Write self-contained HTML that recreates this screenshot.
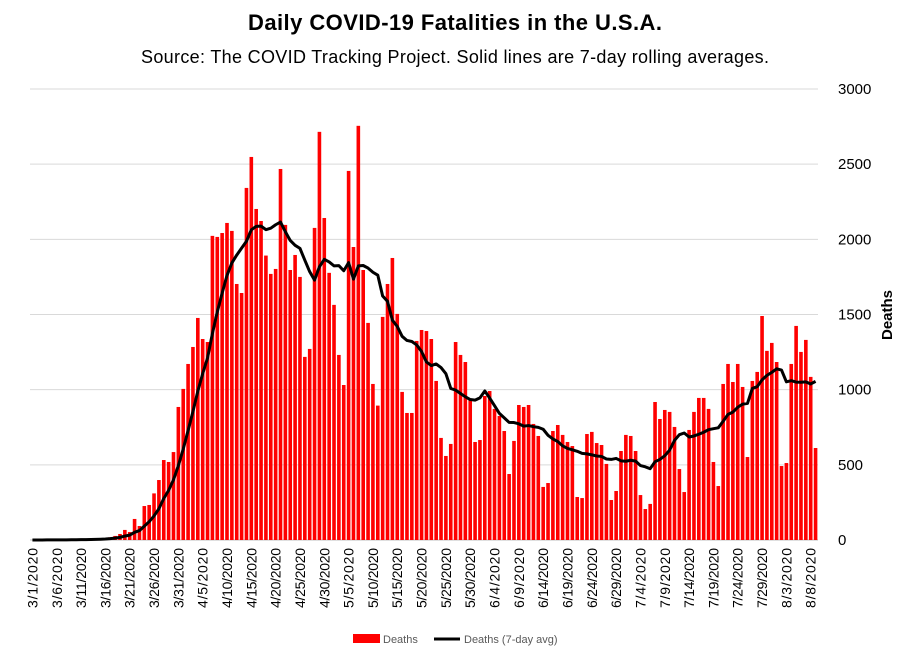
<!DOCTYPE html>
<html><head><meta charset="utf-8"><style>
body{margin:0;background:#fff;}
svg{display:block;font-family:"Liberation Sans",sans-serif;}
</style></head><body>
<svg id="chart" width="910" height="661">
<text x="455" y="30" text-anchor="middle" font-size="22" font-weight="bold" fill="#000" textLength="414">Daily COVID-19 Fatalities in the U.S.A.</text>
<text x="455" y="63" text-anchor="middle" font-size="18" fill="#000" textLength="628">Source: The COVID Tracking Project. Solid lines are 7-day rolling averages.</text>
<g id="grid"></g><g id="bars"></g><g id="line"></g><g id="yticks"></g><g id="xticks"></g>
<text transform="translate(892,315) rotate(-90)" text-anchor="middle" font-size="15" font-weight="bold">Deaths</text>
<g>
<rect x="353" y="634" width="27" height="9" fill="#ff0000"/>
<text x="383" y="643" font-size="11" fill="#595959">Deaths</text>
<line x1="434" y1="639" x2="460" y2="639" stroke="#000" stroke-width="3"/>
<text x="464" y="643" font-size="11" fill="#595959">Deaths (7-day avg)</text>
</g>
</svg>
<script>
const deaths=[0,0,1,1,1,2,1,2,3,2,4,4,7,8,9,13,18,27,40,67,53,140,93,226,233,310,399,532,519,585,
885,1005,1171,1284,1477,1337,1317,2023,2016,2042,2109,2056,1703,1643,2342,2548,2202,2122,1892,1770,
1803,2468,2096,1796,1896,1750,1218,1271,2076,2715,2142,1777,1564,1231,1031,2455,1949,2755,1796,1444,
1038,894,1484,1703,1876,1504,985,845,845,1324,1397,1390,1337,1058,679,559,639,1317,1231,1184,
931,652,665,958,991,872,825,725,439,659,898,885,898,772,692,353,379,725,765,699,
652,625,286,279,705,719,645,632,506,266,326,592,699,692,592,299,206,240,918,805,
865,852,752,472,319,732,852,945,945,872,519,359,1038,1171,1051,1171,1018,552,1058,1118,
1490,1258,1311,1184,492,512,1171,1424,1251,1331,1085,612];
const yTicks=[0,500,1000,1500,2000,2500,3000];
const startDate=new Date(2020,2,1);
const NS="http://www.w3.org/2000/svg";
const x0=30,x1=818,y0=540,y1=89,yMax=3000;
const n=deaths.length,bw=(x1-x0)/n;
const X=i=>x0+bw*(i+0.5);
const Y=v=>y0-(v/yMax)*(y0-y1);
function mk(t,a,p){const e=document.createElementNS(NS,t);for(const k in a)e.setAttribute(k,a[k]);document.getElementById(p).appendChild(e);return e;}
yTicks.forEach(v=>{
 const g=mk('line',{x1:x0,x2:x1,y1:Y(v),y2:Y(v),stroke:v===0?'#bfbfbf':'#d9d9d9','stroke-width':1},'grid');
 
 
 const t=mk('text',{x:838,y:Y(v)+5,'font-size':15,fill:'#000'},'yticks');
 t.textContent=v;
 
 
});
deaths.forEach((v,i)=>{
 const r=mk('rect',{x:X(i)-bw*0.37,width:bw*0.74,y:Y(v),height:y0-Y(v),fill:'#ff0000'},'bars');
 
 
});
const avg=deaths.map((v,i)=>{const s=deaths.slice(Math.max(0,i-6),i+1);return s.reduce((a,b)=>a+b,0)/s.length;});
const p=mk('polyline',{points:avg.map((v,i)=>X(i)+','+Y(v)).join(' '),fill:'none',stroke:'#000','stroke-width':3,'stroke-linejoin':'round'},'line');


for(let i=0;i<n;i+=5){
 const d=new Date(startDate.getTime()+i*86400000);
 const lab=(d.getMonth()+1)+'/'+d.getDate()+'/2020';
 const t=mk('text',{transform:'translate('+(X(i)+5)+',548) rotate(-90)','text-anchor':'end','font-size':14,fill:'#000',textLength:60},'xticks');
 t.textContent=lab;
 
 
}
</script>
</body></html>
